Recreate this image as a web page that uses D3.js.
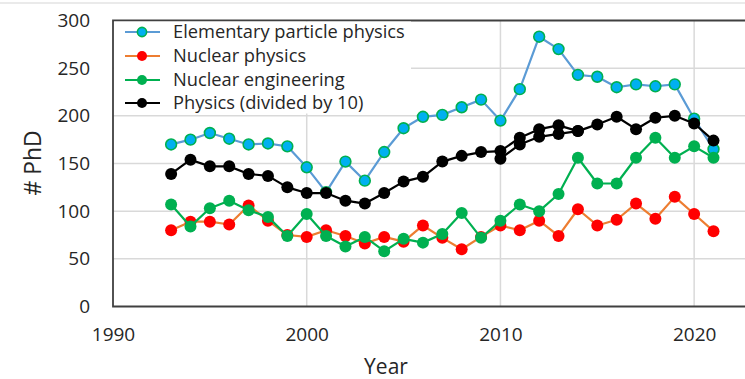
<!DOCTYPE html>
<html><head><meta charset="utf-8">
<script src="https://cdn.jsdelivr.net/npm/d3@7"></script>
<style>
html,body{margin:0;padding:0;background:#fff;overflow:hidden}
svg{display:block;font-family:"Open Sans",sans-serif}
</style></head>
<body>
<svg id="chart" width="745" height="379"></svg>
<script>
const years = [1993,1994,1995,1996,1997,1998,1999,2000,2001,2002,2003,2004,2005,2006,2007,2008,2009,2010,2011,2012,2013,2014,2015,2016,2017,2018,2019,2020,2021];
const elementary = [170,175,182,176,170,171,168,146,120,152,132,162,187,199,201,209,217,195,228,283,270,243,241,230,233,231,233,197,165];
const nuclear = [80,89,89,86,106,90,75,73,80,74,66,73,68,85,72,60,73,85,80,90,74,102,85,91,108,92,115,97,79];
const engineering = [107,84,103,111,101,94,74,97,74,63,73,58,71,67,76,98,72,90,107,100,118,156,129,129,156,177,156,168,156];
const physicsYearsA = [1993,1994,1995,1996,1997,1998,1999,2000,2001,2002,2003,2004,2005,2006,2007,2008,2009,2010,2011,2012,2013,2014];
const physicsA = [139,154,147,147,139,137,125,119,119,111,108,119,131,136,152,158,162,163,177,186,190,184];
const physicsYearsB = [2010,2011,2012,2013,2014,2015,2016,2017,2018,2019,2020,2021];
const physicsB = [155,170,178,181,184,191,199,186,198,200,192,174];
const xTicks = [1990,2000,2010,2020];
const yTicks = [0,50,100,150,200,250,300];
const legendLabels = ["Elementary particle physics","Nuclear physics","Nuclear engineering","Physics (divided by 10)"];

const svg = d3.select("#chart");
const x = d3.scaleLinear().domain([1990,2025]).range([113,791]);
const y = d3.scaleLinear().domain([0,300]).range([306.5,20.5]);

// faint outer border line at top
svg.append("line").attr("x1",0).attr("x2",745).attr("y1",3).attr("y2",3)
  .attr("stroke","#e3e3e3").attr("stroke-width",1.5);

// gridlines
const grid = svg.append("g");
grid.selectAll(".hg").data(yTicks.filter(d=>d>0 && d<300)).join("line")
  .attr("x1",x(1990)).attr("x2",745).attr("y1",d=>y(d)).attr("y2",d=>y(d))
  .attr("stroke","#d9d9d9").attr("stroke-width",1.5);
grid.selectAll(".vg").data(xTicks.filter(d=>d>1990)).join("line")
  .attr("x1",d=>x(d)).attr("x2",d=>x(d)).attr("y1",y(0)).attr("y2",y(300))
  .attr("stroke","#d9d9d9").attr("stroke-width",1.5);

// axes (labels only)
const yAxis = svg.append("g").attr("transform",`translate(${x(1990)},0)`)
  .call(d3.axisLeft(y).tickValues(yTicks).tickSize(0).tickPadding(23));
const xAxis = svg.append("g").attr("transform",`translate(0,${y(0)})`)
  .call(d3.axisBottom(x).tickValues(xTicks).tickFormat(d3.format("d")).tickSize(0).tickPadding(21));
[yAxis,xAxis].forEach(a=>{
  a.select(".domain").remove();
  a.selectAll("text").attr("font-size",19).attr("fill","#262626").attr("font-family","'Open Sans',sans-serif");
});

// series
const series = [
  {name:legendLabels[0], xs:years, ys:elementary, line:"#5b9bd5", fill:"#00b0f0", stroke:"#00b050", sw:1.6},
  {name:legendLabels[1], xs:years, ys:nuclear, line:"#ed7d31", fill:"#ff0000", stroke:"none", sw:0},
  {name:legendLabels[2], xs:years, ys:engineering, line:"#00b050", fill:"#00b050", stroke:"none", sw:0},
  {name:legendLabels[3], xs:physicsYearsA, ys:physicsA, line:"#000000", fill:"#000000", stroke:"none", sw:0},
  {name:null, xs:physicsYearsB, ys:physicsB, line:"#000000", fill:"#000000", stroke:"none", sw:0}
];
const lineGen = d3.line().x(d=>x(d[0])).y(d=>y(d[1]));
series.forEach(s=>{
  const pts = s.xs.map((v,i)=>[v,s.ys[i]]);
  const g = svg.append("g");
  g.append("path").datum(pts).attr("d",lineGen).attr("fill","none")
    .attr("stroke",s.line).attr("stroke-width",2.2).attr("stroke-linejoin","round");
  g.selectAll("circle").data(pts).join("circle")
    .attr("cx",d=>x(d[0])).attr("cy",d=>y(d[1])).attr("r",s.sw?5.4:6)
    .attr("fill",s.fill).attr("stroke",s.stroke).attr("stroke-width",s.sw);
});

// frame
svg.append("path")
  .attr("d",`M760,${y(300)}H${x(1990)}V${y(0)}H760`)
  .attr("fill","none").attr("stroke","#404040").attr("stroke-width",1.8);

// legend
const lg = svg.append("g");
lg.append("rect").attr("x",x(1990)+1).attr("y",y(300)+1).attr("width",297).attr("height",92).attr("fill","#fff");
const rowsY = [32,56,80,103];
series.filter(s=>s.name).forEach((s,i)=>{
  const r = lg.append("g").attr("transform",`translate(0,${rowsY[i]})`);
  r.append("line").attr("x1",125).attr("x2",160).attr("stroke",s.line).attr("stroke-width",2.2);
  r.append("circle").attr("cx",142).attr("r",s.sw?4.6:5).attr("fill",s.fill).attr("stroke",s.stroke).attr("stroke-width",s.sw);
  r.append("text").attr("class","lgt").attr("x",173).attr("dy","0.35em").attr("font-size",18).attr("fill","#262626").text(s.name);
});
const first = lg.select(".lgt").node();
const fs = 18*232/first.getComputedTextLength();
lg.selectAll(".lgt").attr("font-size",fs);

// axis titles
const yt = svg.append("text").attr("transform","translate(33,163) rotate(-90)")
  .attr("text-anchor","middle").attr("dy","0.35em").attr("font-size",22).attr("fill","#262626").text("# PhD");
yt.attr("font-size",22*65/yt.node().getComputedTextLength());
const xt = svg.append("text").attr("x",386).attr("y",374)
  .attr("text-anchor","middle").attr("font-size",22).attr("fill","#262626").text("Year");
xt.attr("font-size",Math.min(21, 22*46/xt.node().getComputedTextLength()));
</script>
</body></html>
